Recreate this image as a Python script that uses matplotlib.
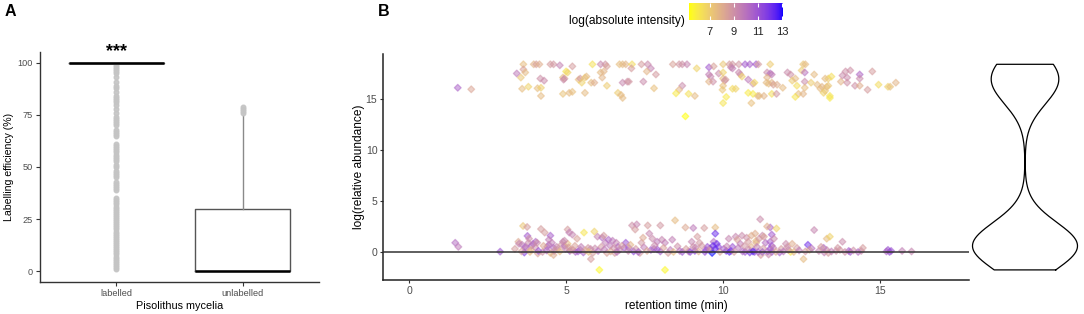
import numpy as np
import matplotlib
matplotlib.use("Agg")
import matplotlib.pyplot as plt
from matplotlib.colors import ListedColormap, Normalize

plt.rcParams['font.family'] = ['Liberation Sans', 'DejaVu Sans']

# ---------------- Panel A data ----------------
groups = ['labelled', 'unlabelled']
box_q1 = [100, 0]
box_med = [100, 0]
box_q3 = [100, 30]
whisk_lo = [100, 0]
whisk_hi = [100, 75]
labelled_outliers = [1, 2, 3, 4, 5, 6, 7, 8, 9, 10, 11, 12, 13, 14, 15, 16, 17, 18, 19, 20,
                     21, 22, 23, 24, 25, 26, 27, 28, 29, 30, 31, 32, 33, 34, 35, 39, 40, 41,
                     42, 43, 45, 46, 47, 48, 50, 51, 53, 54, 55, 56, 57, 58, 59, 60, 61, 65,
                     66, 67, 68, 70, 71, 72, 73, 74, 76, 78, 80, 81, 82, 83, 84, 86, 88, 89,
                     91, 93, 95, 96, 97, 98, 99]
unlabelled_outliers = [76, 77, 78, 79]
a_yticks = [0, 25, 50, 75, 100]

# ---------------- Panel B data ----------------
# upper cluster: retention time, log(relative abundance), log(absolute intensity)
rt_top = [1.55, 1.98, 3.64, 3.43, 3.56, 3.60, 3.64, 3.70, 3.80, 3.97, 4.05, 4.15, 4.09, 4.20, 4.20,
          4.18, 4.30, 4.50, 4.60, 4.80, 4.90, 4.90, 4.95, 5.00, 5.05, 5.20, 5.20, 5.10, 4.92, 5.40,
          5.45, 5.50, 5.60, 5.65, 5.60, 5.80, 5.90, 5.84, 6.10, 6.25, 6.30, 6.10, 6.20, 6.15, 6.30,
          6.70, 6.80, 6.90, 7.10, 7.08, 7.40, 7.60, 7.70, 7.57, 7.86, 6.65, 6.75, 6.80, 6.80, 6.95,
          7.00, 7.46, 7.80, 8.40, 8.60, 8.70, 8.85, 9.16, 8.70, 8.60, 8.50, 8.90, 9.10, 8.80, 9.55,
          9.70, 9.55, 9.60, 9.55, 9.68, 9.86, 10.00, 10.00, 10.05, 10.08, 10.00, 9.98, 10.00, 10.20, 10.30,
          10.25, 10.30, 10.10, 10.00, 10.30, 10.40, 10.50, 10.55, 10.60, 10.50, 10.70, 10.85, 10.80, 10.80, 10.95,
          10.90, 11.05, 11.12, 11.10, 11.50, 11.40, 11.50, 11.55, 11.40, 11.38, 11.45, 11.55, 11.60, 11.72, 10.95,
          11.15, 11.30, 11.55, 11.70, 11.00, 11.90, 12.05, 12.15, 12.50, 12.55, 12.62, 12.60, 12.60, 12.60, 12.40,
          12.55, 12.30, 12.20, 12.30, 12.35, 12.80, 12.90, 13.00, 13.15, 13.10, 13.25, 13.35, 13.45, 13.20, 13.25,
          13.40, 13.40, 13.30, 13.35, 13.75, 13.80, 13.90, 13.95, 13.95, 14.05, 14.20, 14.35, 14.35, 14.35, 14.60,
          14.75, 14.95, 15.25, 15.32, 15.50]
rel_top = [16.1, 15.95, 18.4, 17.5, 17.1, 16.0, 17.9, 17.6, 16.2, 18.4, 18.4, 18.4, 16.05, 16.1, 15.3,
           17.0, 16.8, 18.4, 18.4, 18.3, 15.5, 17.1, 17.0, 17.7, 17.6, 15.7, 18.2, 15.6, 16.9, 16.9,
           17.0, 16.6, 17.1, 17.2, 15.6, 16.6, 16.6, 18.4, 18.4, 18.4, 18.2, 17.6, 17.7, 17.1, 16.3,
           18.4, 18.4, 18.4, 18.4, 18.0, 18.4, 18.4, 18.0, 17.7, 17.4, 15.6, 15.4, 15.1, 16.6, 16.7,
           16.7, 16.7, 16.05, 18.4, 18.4, 18.4, 18.4, 18.0, 16.3, 15.9, 15.55, 15.5, 15.3, 13.3, 18.1,
           18.2, 17.4, 17.2, 16.7, 16.7, 17.5, 17.6, 17.0, 16.8, 16.9, 16.3, 15.9, 18.4, 18.4, 18.4,
           18.1, 18.0, 15.2, 14.6, 16.0, 16.0, 17.6, 17.4, 17.2, 18.4, 18.4, 18.4, 16.9, 15.6, 16.5,
           14.6, 18.4, 18.4, 15.3, 18.4, 17.6, 17.5, 17.4, 17.1, 16.6, 16.5, 16.6, 16.4, 16.4, 15.5,
           15.3, 15.3, 15.5, 15.5, 16.6, 16.1, 17.6, 17.4, 17.8, 18.4, 18.4, 17.6, 16.7, 16.1, 15.5,
           15.5, 15.2, 16.8, 17.0, 16.3, 16.6, 17.4, 16.4, 16.2, 16.0, 17.0, 17.0, 17.2, 15.6, 15.8,
           15.1, 15.3, 16.2, 16.3, 16.7, 17.3, 17.7, 17.1, 16.6, 17.8, 16.3, 17.4, 17.0, 16.3, 15.9,
           17.7, 16.4, 16.2, 16.2, 16.6]
int_top = [10.5, 8.3, 7.5, 9.8, 7.2, 7.5, 8.5, 7.6, 6.8, 7.8, 8.5, 8.0, 7.5, 6.9, 7.6,
           9.0, 9.2, 8.6, 8.8, 9.5, 7.3, 7.6, 8.6, 6.2, 6.8, 7.4, 8.6, 7.6, 9.2, 7.4,
           8.8, 6.8, 7.0, 7.6, 7.6, 7.5, 8.0, 6.3, 9.3, 8.9, 8.4, 7.6, 7.8, 7.8, 7.0,
           7.5, 7.6, 7.8, 6.5, 8.6, 8.6, 9.2, 9.5, 7.8, 8.7, 7.0, 7.6, 7.6, 9.3, 9.0,
           8.8, 9.2, 7.4, 8.4, 8.8, 9.0, 9.4, 6.8, 9.2, 7.8, 6.0, 6.3, 7.6, 5.3, 10.8,
           8.4, 9.6, 9.3, 7.8, 9.0, 9.2, 6.8, 7.6, 9.0, 8.6, 7.4, 7.2, 7.2, 8.6, 8.8,
           9.2, 9.6, 6.0, 6.2, 6.5, 6.8, 9.3, 9.0, 6.8, 8.8, 10.8, 10.6, 9.8, 6.0, 8.8,
           7.4, 10.8, 8.6, 7.6, 7.0, 9.2, 10.2, 9.6, 7.8, 7.6, 7.5, 7.8, 8.4, 8.0, 6.0,
           7.6, 7.8, 6.4, 8.8, 6.6, 7.6, 9.2, 9.0, 7.0, 7.2, 7.6, 10.0, 9.2, 7.5, 7.5,
           7.8, 6.2, 7.0, 7.6, 6.4, 7.0, 7.6, 7.6, 7.8, 7.6, 7.6, 7.0, 6.4, 6.8, 7.2,
           6.0, 6.2, 7.6, 7.2, 7.8, 9.2, 9.0, 9.2, 9.0, 9.0, 9.0, 10.4, 9.2, 8.0, 8.6,
           8.6, 6.5, 6.8, 7.4, 7.8]

# lower cluster
rt_low = [1.47, 1.57, 2.90, 3.37, 3.48, 3.50, 3.63, 3.76, 3.77, 3.60, 3.70, 3.80, 3.67, 3.90, 3.95,
          4.03, 4.08, 4.20, 4.40, 4.45, 4.50, 4.55, 4.60, 4.50, 4.60, 4.70, 4.85, 4.95, 5.05, 5.05,
          4.90, 4.95, 5.10, 5.20, 5.12, 5.15, 5.30, 5.45, 5.57, 5.70, 5.78, 5.85, 5.79, 5.90, 6.00,
          6.06, 6.15, 6.25, 6.35, 6.40, 6.20, 6.30, 6.60, 6.65, 6.70, 6.85, 6.90, 7.00, 7.10,
          7.20, 7.25, 7.35, 7.40, 7.60, 7.65, 7.75, 7.90, 8.00, 7.70, 7.80, 7.90, 8.05, 8.15, 8.15,
          8.25, 8.47, 8.80, 9.05, 9.40, 9.75, 9.75, 8.70, 9.10, 9.45, 9.85, 9.00, 9.05, 9.25, 9.50,
          9.60, 9.70, 9.65, 9.75, 9.80, 10.10, 10.20, 10.30, 10.40, 10.45, 10.55, 10.60, 10.75, 10.80, 10.90,
          11.05, 10.70, 11.00, 11.18, 10.90, 11.05, 11.15, 11.25, 11.30, 11.35, 11.50, 11.55, 11.50, 11.55, 11.50,
          11.40, 11.70, 11.25, 11.55, 11.80, 12.15, 11.20, 11.45, 12.00, 12.05, 12.20, 12.35, 12.56, 12.70, 12.90,
          12.75, 13.20, 13.22, 13.30, 13.30, 13.40, 13.35, 13.60, 13.65, 13.80, 14.00, 14.05, 14.40, 14.45, 15.25,
          15.30, 15.70, 16.00, 4.25, 4.10, 3.85, 5.55, 6.55, 7.15, 8.90, 10.85,
          3.58, 3.72, 3.88, 4.02, 4.12, 4.28, 4.38, 4.62, 4.72, 4.80, 4.98, 5.08, 5.22, 5.28, 5.38,
          5.48, 5.62, 5.72, 5.92, 6.02, 6.12, 6.22, 6.42, 6.52, 6.62, 6.78, 6.98, 7.05, 7.22, 7.30,
          7.48, 7.58, 7.82, 8.00, 8.10, 8.32, 8.42, 8.55, 8.62, 8.82, 8.95, 9.12, 9.22, 9.32, 9.42,
          9.58, 9.68, 9.90, 10.02, 10.12, 10.25, 10.35, 10.48, 10.62, 10.68, 10.82, 10.95, 11.08, 11.12, 11.28,
          11.42, 11.60, 11.68, 11.85, 11.92, 12.08, 12.25, 12.42, 12.62, 12.82, 13.05, 13.12, 13.45, 13.72, 13.88,
          14.15, 14.30, 15.20, 15.35, 4.45, 5.35, 6.48, 7.45, 8.38, 9.18, 10.18, 11.02, 11.62, 4.32, 3.82]
rel_low = [0.9, 0.5, 0.03, 0.3, 1.0, 0.8, 2.55, 2.45, 1.57, 0.7, 0.5, 0.9, -0.06, 0.6, 0.8,
           1.0, 0.9, 2.25, 0.5, 0.7, 1.6, 0.9, 0.4, -0.1, -0.3, 0.5, 0.7, 0.6, 0.8, 2.2,
           1.0, 1.1, 1.9, 1.7, 0.1, 0.2, 0.0, 0.2, 1.9, 0.4, 0.3, -0.1, -0.7, 2.0, 1.5,
           -1.76, 1.4, 0.9, 1.2, 0.6, 1.6, -0.1, 0.9, 0.5, 0.2, 0.4, 0.9, 0.4, 2.6,
           2.2, 2.7, -0.1, 0.9, 2.6, 1.8, 1.3, 1.0, 2.6, 0.2, 0.3, 0.25, 1.2, 0.9, -1.76,
           -0.1, 3.1, 2.4, 2.35, 2.35, 2.4, 1.8, 0.0, 0.1, 0.2, 0.5, 1.0, 0.5, 0.9, 0.5,
           0.2, 1.0, -0.1, 0.3, 0.8, 0.1, 0.0, 0.5, 1.5, 1.2, 0.8, 1.6, 1.4, 1.0, 0.5,
           0.9, 0.0, 0.0, 3.2, 1.6, 1.1, 1.3, 1.6, 1.5, 0.9, 2.4, 1.7, 1.0, 0.6, 0.3,
           2.5, 2.3, 0.0, 0.0, -0.05, 0.0, -0.3, -0.25, 0.8, 0.5, 0.8, 0.4, -0.7, 0.7, 2.15,
           0.2, 0.4, -0.05, 0.2, 1.3, 1.5, -0.1, 0.1, 0.4, 1.0, 0.1, 0.0, 0.1, 0.4, 0.2,
           0.0, 0.1, 0.05, 0.0, -0.15, 0.0, -0.05, -0.1, 0.05, 0.05, -0.05,
           0.05, 0.35, 0.2, 0.45, 0.1, 0.6, 0.15, 0.1, 0.25, 0.05, 0.3, 0.45, 0.2, 0.6, 0.05,
           0.5, 0.15, 0.0, 0.35, 0.1, 0.5, 0.25, 0.05, 0.4, 0.0, 0.6, 0.1, 0.7, 0.3, 0.0,
           0.45, 0.1, 0.65, 0.05, 0.4, 0.2, 0.0, 0.55, 0.1, 0.3, 0.0, 0.45, 0.05, 0.6, 0.0,
           0.35, 0.6, 0.0, 0.3, 0.55, 0.1, 0.0, 0.4, 0.05, 0.6, 0.25, 0.05, 0.5, 0.0, 0.35,
           0.05, 0.4, 0.0, 0.3, 0.05, 0.2, 0.0, 0.15, 0.05, 0.35, 0.1, 0.5, 0.05, 0.2, 0.0,
           0.15, 0.0, 0.05, 0.1, 1.2, 1.3, 1.1, 1.4, 1.2, 1.5, 1.3, 1.8, 1.3, 1.9, 1.3]
int_low = [10.2, 9.8, 11.0, 8.6, 8.2, 9.4, 7.2, 8.6, 10.8, 9.6, 10.4, 9.2, 11.6, 10.6, 9.8,
           10.4, 9.0, 8.6, 9.6, 10.2, 10.6, 9.6, 10.2, 7.6, 8.0, 9.4, 8.6, 10.0, 7.4, 8.6,
           9.4, 9.2, 9.6, 9.4, 10.8, 7.6, 10.4, 9.8, 6.2, 8.8, 9.2, 8.6, 8.6, 6.8, 9.4,
           5.5, 10.2, 9.6, 10.4, 9.8, 8.6, 8.4, 9.4, 10.2, 9.4, 10.6, 11.0, 10.6, 9.0,
           8.6, 9.4, 8.6, 8.8, 8.6, 9.4, 9.2, 9.8, 8.8, 10.6, 10.2, 11.0, 9.4, 9.6, 5.5,
           8.6, 7.6, 8.2, 9.8, 8.6, 7.6, 12.2, 11.0, 11.4, 10.8, 11.2, 9.4, 9.0, 8.8, 11.0,
           7.4, 10.2, 13.05, 12.4, 12.0, 11.8, 12.4, 11.0, 9.4, 8.4, 9.6, 9.2, 9.0, 8.6, 7.8,
           8.0, 11.0, 11.4, 9.2, 8.0, 7.6, 8.8, 9.2, 8.4, 10.2, 10.4, 10.8, 10.6, 10.8, 11.2,
           8.0, 6.8, 12.2, 11.4, 10.8, 6.0, 8.6, 9.2, 9.2, 9.0, 8.0, 8.6, 7.6, 12.0, 9.4,
           7.6, 10.6, 9.6, 9.2, 7.6, 6.8, 8.6, 9.0, 8.8, 9.2, 10.6, 10.8, 9.2, 8.6, 11.0,
           11.2, 9.6, 9.4, 9.0, 8.4, 7.6, 10.6, 8.6, 11.4, 9.2, 12.0,
           8.4, 9.6, 7.8, 9.0, 11.0, 8.2, 10.4, 9.0, 8.8, 7.6, 9.4, 8.6, 9.0, 8.4, 10.8,
           9.6, 8.2, 7.4, 9.2, 10.2, 8.8, 9.8, 8.0, 9.0, 10.0, 8.6, 9.4, 7.8, 8.8, 10.6,
           9.6, 8.2, 9.2, 10.8, 8.4, 9.8, 7.6, 9.0, 10.0, 8.6, 11.4, 9.4, 8.0, 8.8, 11.2,
           9.8, 12.2, 8.4, 10.6, 9.4, 11.8, 8.6, 9.8, 10.4, 8.8, 9.2, 12.4, 9.6, 10.6, 8.8,
           10.4, 9.4, 8.2, 8.6, 10.0, 9.2, 7.8, 9.8, 8.8, 10.0, 9.4, 8.6, 9.6, 8.8, 9.0,
           9.0, 10.2, 10.4, 11.0, 9.6, 8.4, 9.8, 8.2, 9.6, 8.6, 9.4, 8.0, 9.2, 8.6, 9.0]

b_xticks = [0, 5, 10, 15]
b_yticks = [0, 5, 10, 15]
cbar_ticks = [7, 9, 11, 13]

rt = np.array(rt_top + rt_low)
rel = np.array(rel_top + rel_low)
inten = np.array(int_top + int_low)


# ---------- colour scale: yellow -> blue interpolated in CIE Lab ----------
def srgb_to_lab(rgb):
    rgb = np.asarray(rgb, float)
    lin = np.where(rgb <= 0.04045, rgb / 12.92, ((rgb + 0.055) / 1.055) ** 2.4)
    M = np.array([[0.4124, 0.3576, 0.1805], [0.2126, 0.7152, 0.0722], [0.0193, 0.1192, 0.9505]])
    xyz = M @ lin
    wp = np.array([0.95047, 1.0, 1.08883])
    t = xyz / wp
    f = np.where(t > (6 / 29) ** 3, np.cbrt(t), t / (3 * (6 / 29) ** 2) + 4 / 29)
    return np.array([116 * f[1] - 16, 500 * (f[0] - f[1]), 200 * (f[1] - f[2])])


def lab_to_srgb(lab):
    L, a, b = lab
    fy = (L + 16) / 116
    fx = fy + a / 500
    fz = fy - b / 200
    f = np.array([fx, fy, fz])
    t = np.where(f > 6 / 29, f ** 3, 3 * (6 / 29) ** 2 * (f - 4 / 29))
    xyz = t * np.array([0.95047, 1.0, 1.08883])
    Minv = np.array([[3.2406, -1.5372, -0.4986], [-0.9689, 1.8758, 0.0415], [0.0557, -0.2040, 1.0570]])
    lin = Minv @ xyz
    lin = np.clip(lin, 0, 1)
    rgb = np.where(lin <= 0.0031308, 12.92 * lin, 1.055 * lin ** (1 / 2.4) - 0.055)
    return np.clip(rgb, 0, 1)


lab_lo = srgb_to_lab([1, 1, 0])
lab_hi = srgb_to_lab([0, 0, 1])
cols = [lab_to_srgb(lab_lo + (lab_hi - lab_lo) * t) for t in np.linspace(0, 1, 256)]
cmap = ListedColormap(cols)
norm = Normalize(vmin=inten.min(), vmax=inten.max())

# ---------------- figure ----------------
W, H = 1084, 314
fig = plt.figure(figsize=(W / 100, H / 100), dpi=100)


def px_axes(l, t, r, b):
    return fig.add_axes([l / W, 1 - b / H, (r - l) / W, (b - t) / H])


tick_col = '#4d4d4d'

# ---- Panel A ----
axA = px_axes(40, 52, 319, 282)
stats = []
for i, g in enumerate(groups):
    stats.append(dict(label=g, med=box_med[i], q1=box_q1[i], q3=box_q3[i],
                      whislo=whisk_lo[i], whishi=whisk_hi[i],
                      fliers=labelled_outliers if i == 0 else unlabelled_outliers))
axA.bxp(stats, positions=[1, 2], widths=0.75, showcaps=False, patch_artist=False,
        boxprops=dict(color='#555555', lw=1.0),
        whiskerprops=dict(color='#8a8a8a', lw=1.0),
        medianprops=dict(color='black', lw=1.8),
        flierprops=dict(marker='o', markersize=3.3, markerfacecolor='#c4c4c4',
                        markeredgecolor='#c4c4c4', alpha=0.9))
axA.set_xlim(0.4, 2.6)
axA.set_ylim(-5.25, 105.25)
axA.set_yticks(a_yticks)
axA.set_xticks([1, 2])
axA.set_xticklabels(groups)
for s in ['top', 'right']:
    axA.spines[s].set_visible(False)
for s in ['left', 'bottom']:
    axA.spines[s].set_color('#333333')
    axA.spines[s].set_linewidth(1.0)
axA.tick_params(axis='both', labelsize=6.6, labelcolor=tick_col, color='#333333',
                length=3, width=0.8, pad=2)
axA.set_ylabel('Labelling efficiency (%)', fontsize=7.6, labelpad=2.5)
axA.set_xlabel('Pisolithus mycelia', fontsize=7.8, labelpad=2)
axA.text(1, 101.5, '***', ha='center', va='bottom', fontsize=13, fontweight='bold')

# ---- Panel B ----
axB = px_axes(383, 54, 969, 280)
axB.scatter(rt, rel, c=inten, cmap=cmap, norm=norm, marker='D', s=12,
            alpha=0.5, linewidths=0.9, edgecolors=cmap(norm(inten)), zorder=2)
axB.axhline(0, color='#333333', lw=1.1, zorder=3)
axB.set_xlim(-0.83, 17.83)
axB.set_ylim(-2.75, 19.41)
axB.set_xticks(b_xticks)
axB.set_yticks(b_yticks)
for s in ['top', 'right']:
    axB.spines[s].set_visible(False)
for s in ['left', 'bottom']:
    axB.spines[s].set_color('#222222')
    axB.spines[s].set_linewidth(1.1)
axB.tick_params(axis='both', labelsize=7.6, labelcolor=tick_col, color='#333333',
                length=2.5, width=0.8, pad=1.5)
axB.set_xlabel('retention time (min)', fontsize=8.6, labelpad=3)
axB.set_ylabel('log(relative abundance)', fontsize=8.6, labelpad=0.5)

# ---- violin ----
axV = px_axes(965, 54, 1084, 280)
y = rel
n = len(y)
sd = np.std(y, ddof=1)
iqr = np.subtract(*np.percentile(y, [75, 25]))
bw = 0.9 * min(sd, iqr / 1.34) * n ** (-0.2)
grid = np.linspace(y.min(), y.max(), 400)
dens = np.exp(-0.5 * ((grid[:, None] - y[None, :]) / bw) ** 2).sum(axis=1)
dens = dens / dens.max()
xs = np.concatenate([dens, -dens[::-1], dens[:1]])
ys = np.concatenate([grid, grid[::-1], grid[:1]])
axV.plot(xs, ys, color='black', lw=0.9)
axV.set_xlim(-60 / 52.5, 59 / 52.5)
axV.set_ylim(-2.75, 19.41)
axV.axis('off')

# ---- colourbar ----
axC = px_axes(689, 3, 783, 20)
cb = fig.colorbar(plt.cm.ScalarMappable(norm=norm, cmap=cmap), cax=axC, orientation='horizontal')
cb.outline.set_visible(False)
cb.set_ticks(cbar_ticks)
axC.tick_params(axis='x', direction='in', colors='white', length=3, width=0.8,
                labelsize=8, labelcolor='#222222', pad=5, top=True)
fig.text(685 / W, 1 - 21 / H, 'log(absolute intensity)', ha='right', va='center', fontsize=8.6)

# ---- panel letters ----
fig.text(5 / W, 1 - 11 / H, 'A', ha='left', va='center', fontsize=11.5, fontweight='bold')
fig.text(378 / W, 1 - 11 / H, 'B', ha='left', va='center', fontsize=11.5, fontweight='bold')

fig.savefig('out.png', dpi=100)
